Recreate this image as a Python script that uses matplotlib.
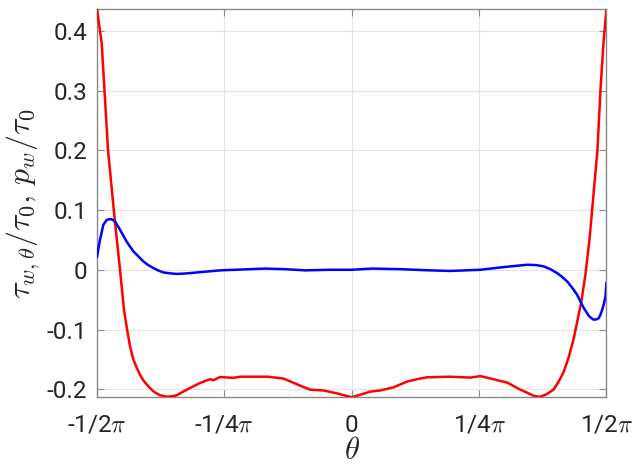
import numpy as np
import matplotlib
matplotlib.use("Agg")
import matplotlib.pyplot as plt

# Wall shear stress and wall pressure around the cylinder surface
# angles are given in units of pi
theta_p_pi = [-0.5, -0.4908, -0.4784, -0.4647, -0.4548, -0.4470, -0.4411, -0.4352,
              -0.4287, -0.4220, -0.4155, -0.4090, -0.4024, -0.3959, -0.3894, -0.3827,
              -0.3762, -0.3631, -0.3532, -0.3434, -0.3238, -0.2976, -0.2780, -0.2721,
              -0.2583, -0.2328, -0.2191, -0.1994, -0.1660, -0.1346, -0.1149, -0.1012,
              -0.0815, -0.0560, -0.0285, 0.0,
              0.0363, 0.0560, 0.0815, 0.1090, 0.1346, 0.1483, 0.1935, 0.2328,
              0.2525, 0.2721, 0.3055, 0.3310, 0.3448, 0.3566, 0.3635, 0.3703,
              0.3831, 0.3959, 0.4057, 0.4155, 0.4253, 0.4352, 0.4503, 0.4587,
              0.4666, 0.4823, 0.4882, 0.4941, 0.5]
p_w = [0.4365, 0.380, 0.201, 0.080, 0.0, -0.067, -0.099, -0.128,
       -0.150, -0.164, -0.176, -0.185, -0.192, -0.198, -0.2035, -0.207,
       -0.210, -0.2125, -0.2120, -0.210, -0.2007, -0.1895, -0.183, -0.185,
       -0.1795, -0.181, -0.179, -0.179, -0.179, -0.182, -0.189, -0.194,
       -0.2007, -0.202, -0.207, -0.2135,
       -0.204, -0.202, -0.197, -0.187, -0.182, -0.180, -0.179, -0.1805,
       -0.178, -0.182, -0.189, -0.2007, -0.206, -0.2107, -0.2120, -0.2125,
       -0.208, -0.2007, -0.188, -0.172, -0.148, -0.117, -0.055, -0.008,
       0.050, 0.2007, 0.301, 0.380, 0.4365]

theta_tau_pi = [-0.5, -0.4941, -0.4876, -0.4809, -0.4725, -0.4646, -0.4548, -0.4417,
                -0.4287, -0.4090, -0.3998, -0.3894, -0.3802, -0.3697, -0.3566, -0.3434,
                -0.3310, -0.3173, -0.2976, -0.2583, -0.1994, -0.1699, -0.1306, -0.0914,
                -0.0422, 0.0, 0.0403, 0.0953, 0.1542, 0.1935, 0.2525, 0.2982,
                0.3442, 0.3625, 0.3768, 0.3900, 0.4031, 0.4116, 0.4228, 0.4326,
                0.4424, 0.4489, 0.4554, 0.4607, 0.4652, 0.4705, 0.4750, 0.4804,
                0.4849, 0.4882, 0.4916, 0.4951, 0.4980, 0.5]
tau_w = [0.022, 0.050, 0.075, 0.0836, 0.085, 0.081, 0.067, 0.047,
         0.031, 0.014, 0.008, 0.003, -0.001, -0.0045, -0.006, -0.007,
         -0.0065, -0.0056, -0.004, -0.001, 0.001, 0.002, 0.001, -0.001,
         0.0, 0.0, 0.002, 0.001, -0.001, -0.002, 0.0, 0.0045,
         0.0084, 0.0078, 0.0056, 0.001, -0.0056, -0.011, -0.0195, -0.030,
         -0.042, -0.053, -0.064, -0.071, -0.077, -0.081, -0.0836, -0.083,
         -0.081, -0.075, -0.067, -0.056, -0.045, -0.022]

xtick_pi = [-0.5, -0.25, 0.0, 0.25, 0.5]
xtick_labels = [r"-1/2$\pi$", r"-1/4$\pi$", "0", r"1/4$\pi$", r"1/2$\pi$"]
ytick_values = [-0.2, -0.1, 0.0, 0.1, 0.2, 0.3, 0.4]
ytick_labels = ["-0.2", "-0.1", "0", "0.1", "0.2", "0.3", "0.4"]

plt.rcParams["font.family"] = ["Roboto", "DejaVu Sans"]
plt.rcParams["mathtext.fontset"] = "cm"

fig = plt.figure(figsize=(6.33, 4.66), dpi=100)
ax = fig.add_axes([0.1532, 0.1474, 0.8049, 0.8333])

ax.plot(np.array(theta_p_pi) * np.pi, p_w, color=(1, 0, 0), lw=1.8, zorder=3)
ax.plot(np.array(theta_tau_pi) * np.pi, tau_w, color=(0, 0, 1), lw=1.8, zorder=3)

ax.set_xlim(-np.pi / 2, np.pi / 2)
ax.set_ylim(min(p_w), max(p_w))

ax.set_xticks(np.array(xtick_pi) * np.pi)
ax.set_xticklabels(xtick_labels)
ax.set_yticks(ytick_values)
ax.set_yticklabels(ytick_labels)

ax.grid(True, color="#d9d9d9", lw=0.8, alpha=0.7)
ax.set_axisbelow(True)
for s in ax.spines.values():
    s.set_color("#8a8a8a")
    s.set_linewidth(1.0)
ax.tick_params(direction="in", length=5, width=0.8, color="#8a8a8a",
               labelcolor="#262626", labelsize=17.5, top=True, right=True)
ax.tick_params(axis="x", pad=12)
ax.tick_params(axis="y", pad=7)

ax.set_xlabel(r"$\theta$", fontsize=22, color="#262626")
ax.xaxis.set_label_coords(0.5, -0.100)
ax.set_ylabel(r"$\tau_{w,\theta}/\tau_0,\, p_w/\tau_0$", fontsize=23,
              color="#262626", labelpad=3)

fig.savefig("out.png", dpi=100)
